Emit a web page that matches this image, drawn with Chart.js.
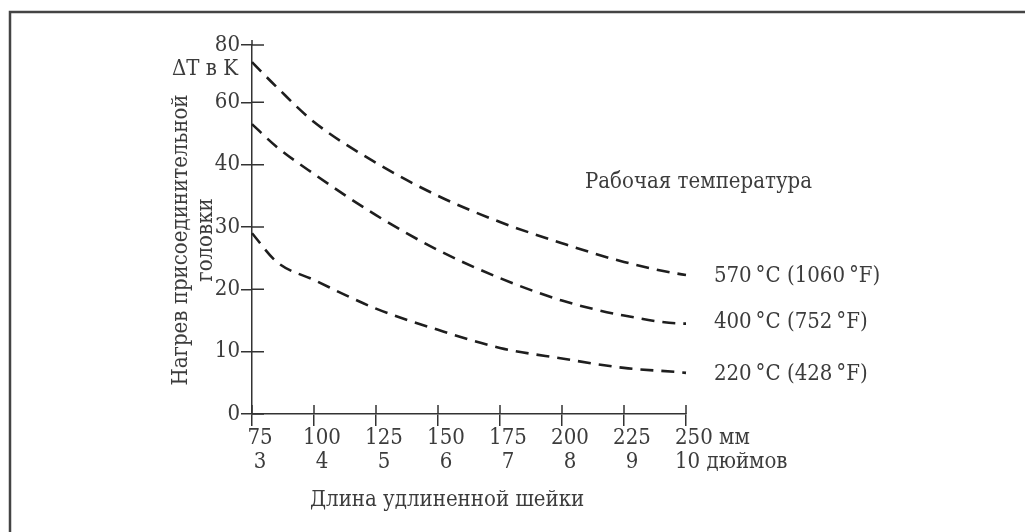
<!DOCTYPE html>
<html>
<head>
<meta charset="utf-8">
<script src="https://cdn.jsdelivr.net/npm/chart.js@4.4.0/dist/chart.umd.min.js"></script>
<style>
  html, body { margin: 0; background: #fff; }
  #wrap { width: 1025px; height: 532px; }
</style>
</head>
<body>
<div id="wrap"><canvas id="heatChart"></canvas></div>
<script>
// neck length in mm and head heating for each process temperature
var lengthMm = [75, 85, 100, 125, 150, 175, 200, 225, 250, 256];
var heat570 = [74, 65.3, 53.7, 40.6, 35.0, 30.8, 27.4, 24.4, 22.3, 22.1];
var heat400 = [53, 45.7, 38.5, 31.9, 26.3, 21.8, 18.2, 15.8, 14.5, 14.7];
var heat220 = [29, 24.4, 21.5, 16.9, 13.5, 10.6, 8.9, 7.4, 6.6, 6.3];
var seriesNames = ['570\u2009°C (1060\u2009°F)', '400\u2009°C (752\u2009°F)', '220\u2009°C (428\u2009°F)'];

var mmTicks = [75, 100, 125, 150, 175, 200, 225, 250];
var inchTicks = [3, 4, 5, 6, 7, 8, 9, 10];
// y axis is drawn with equal spacing per tick, not linear
var yTicks = [0, 10, 20, 30, 40, 60, 80];
var yTickSteps = [0, 1, 2, 3, 4, 5, 5.92];

var FONT = '"DejaVu Serif Condensed", "DejaVu Serif", serif';
var TEXT = '#3c3c3c';
var INK = '#333';

function toStep(v) {
  if (v <= yTicks[0]) return yTickSteps[0];
  for (var i = 1; i < yTicks.length; i++) {
    if (v <= yTicks[i]) {
      var f = (v - yTicks[i - 1]) / (yTicks[i] - yTicks[i - 1]);
      return yTickSteps[i - 1] + f * (yTickSteps[i] - yTickSteps[i - 1]);
    }
  }
  var n = yTicks.length - 1;
  return yTickSteps[n] + (v - yTicks[n]) / (yTicks[n] - yTicks[n - 1]) * (yTickSteps[n] - yTickSteps[n - 1]);
}
function fromStep(s) {
  for (var i = 1; i < yTickSteps.length; i++) {
    if (s <= yTickSteps[i] || i == yTickSteps.length - 1) {
      var f = (s - yTickSteps[i - 1]) / (yTickSteps[i] - yTickSteps[i - 1]);
      return yTicks[i - 1] + f * (yTicks[i] - yTicks[i - 1]);
    }
  }
}

class StepScale extends Chart.LinearScale {
  buildTicks() {
    return yTicks.map(function(v){ return { value: v }; });
  }
  getPixelForValue(v) {
    return this.getPixelForDecimal(toStep(v) / yTickSteps[yTickSteps.length - 1]);
  }
  getValueForPixel(p) {
    return fromStep(this.getDecimalForPixel(p) * yTickSteps[yTickSteps.length - 1]);
  }
}
StepScale.id = 'step';
StepScale.defaults = Chart.LinearScale.defaults;
Chart.register(StepScale);

function pts(ys) {
  return lengthMm.map(function(x, i){ return { x: x, y: ys[i] }; });
}

var extras = {
  id: 'extras',
  afterDraw: function(chart) {
    var ctx = chart.ctx;
    var a = chart.chartArea;
    var xs = chart.scales.x, ys = chart.scales.y;
    ctx.save();

    // frame
    ctx.strokeStyle = '#444';
    ctx.lineWidth = 2.5;
    ctx.beginPath();
    ctx.moveTo(10, chart.height);
    ctx.lineTo(10, 12);
    ctx.lineTo(chart.width, 12);
    ctx.stroke();

    // inner halves of the ticks
    ctx.strokeStyle = INK;
    ctx.lineWidth = 1.5;
    ctx.beginPath();
    yTicks.forEach(function(v){
      var py = ys.getPixelForValue(v);
      ctx.moveTo(a.left, py);
      ctx.lineTo(a.left + 12, py);
    });
    mmTicks.forEach(function(v){
      var px = xs.getPixelForValue(v);
      ctx.moveTo(px, a.bottom);
      ctx.lineTo(px, a.bottom - 9);
    });
    ctx.moveTo(a.left, a.top);
    ctx.lineTo(a.left, a.top - 5);
    ctx.stroke();

    ctx.fillStyle = TEXT;
    ctx.font = '22px ' + FONT;
    ctx.textBaseline = 'middle';

    // x tick labels, mm and inches; the last one carries the units
    mmTicks.forEach(function(v, i){
      var px = xs.getPixelForValue(v);
      if (i == mmTicks.length - 1) {
        ctx.textAlign = 'left';
        ctx.fillText(v + ' мм', px - 11, a.bottom + 24);
        ctx.fillText(inchTicks[i] + ' дюймов', px - 11, a.bottom + 48);
      } else {
        ctx.textAlign = 'center';
        ctx.fillText(String(v), px + 8, a.bottom + 24);
        ctx.fillText(String(inchTicks[i]), px + 8, a.bottom + 48);
      }
    });

    // titles
    ctx.textAlign = 'left';
    ctx.fillText('Длина удлиненной шейки', 310, 500);
    ctx.fillText('Рабочая температура', 585, 182);
    ctx.textAlign = 'right';
    ctx.fillText('ΔT в K', 238, 69);

    ctx.save();
    ctx.translate(181, 240);
    ctx.rotate(-Math.PI / 2);
    ctx.textAlign = 'center';
    ctx.fillText('Нагрев присоединительной', 0, 0);
    ctx.fillText('головки', 0, 25);
    ctx.restore();

    // series labels at the end of each curve
    ctx.textAlign = 'left';
    chart.data.datasets.forEach(function(ds, i){
      var meta = chart.getDatasetMeta(i);
      var last = meta.data[meta.data.length - 1];
      ctx.fillText(seriesNames[i], last.x + 13, last.y);
    });

    ctx.restore();
  }
};

function curve(ys) {
  return {
    data: pts(ys),
    borderColor: '#1e1e1e',
    borderWidth: 2.6,
    borderDash: [13, 8],
    pointRadius: 0,
    fill: false,
    cubicInterpolationMode: 'monotone',
    clip: false
  };
}

var ctx = document.getElementById('heatChart');
var chart = new Chart(ctx, {
  type: 'line',
  data: {
    datasets: [curve(heat570), curve(heat400), curve(heat220)]
  },
  options: {
    responsive: true,
    maintainAspectRatio: false,
    animation: false,
    layout: { padding: { left: 0, top: 45, right: 339, bottom: 0 } },
    plugins: { legend: { display: false }, tooltip: { enabled: false } },
    scales: {
      x: {
        type: 'linear',
        min: 75,
        max: 250,
        afterFit: function(s){ s.height = 118; },
        ticks: { display: false },
        afterBuildTicks: function(s){ s.ticks = mmTicks.map(function(v){ return { value: v }; }); },
        grid: { drawOnChartArea: false, tickLength: 12, color: INK, lineWidth: 1.5 },
        border: { color: INK, width: 1.5 }
      },
      y: {
        type: 'step',
        min: 0,
        max: 80,
        afterFit: function(s){ s.width = 252; },
        ticks: {
          padding: 1,
          color: TEXT,
          font: { family: FONT, size: 22 },
          callback: function(v){ return String(v); }
        },
        grid: { drawOnChartArea: false, tickLength: 11, color: INK, lineWidth: 1.5 },
        border: { color: INK, width: 1.5 }
      }
    }
  },
  plugins: [extras]
});
</script>
</body>
</html>
